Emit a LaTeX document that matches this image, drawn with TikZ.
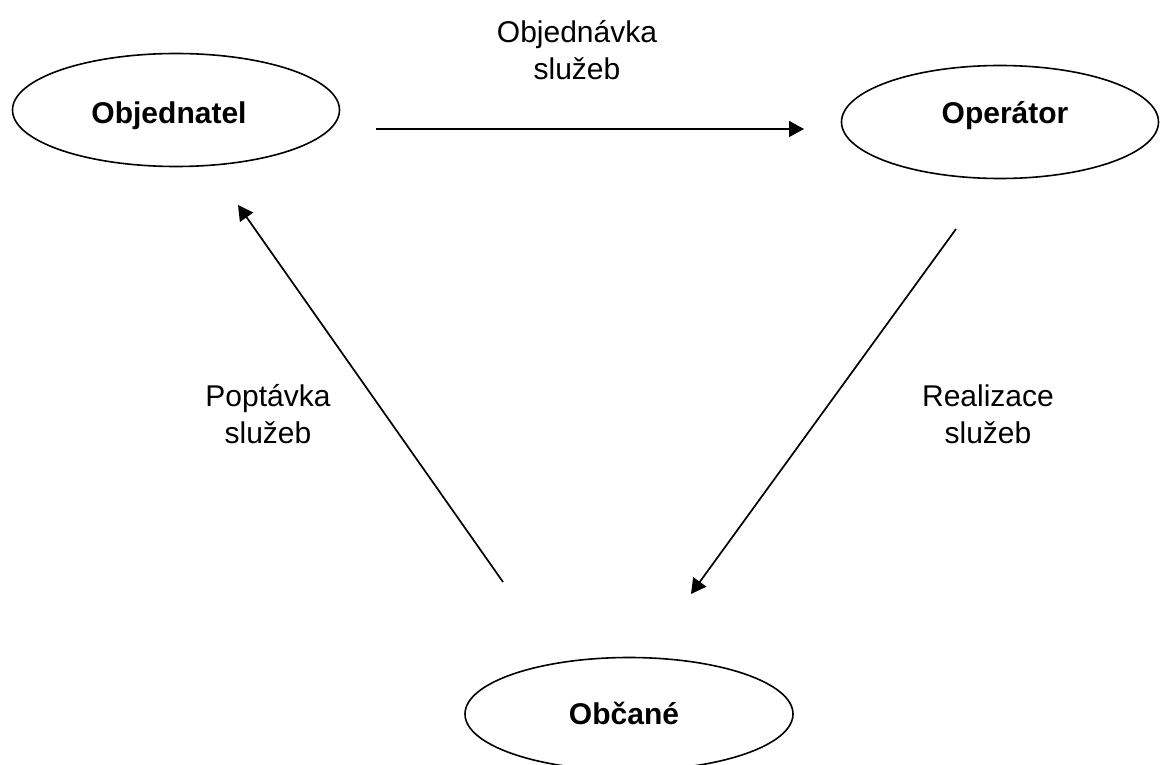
\documentclass[tikz,border=0pt]{standalone}
\usepackage{fontspec}
\setmainfont{Liberation Sans}
\usetikzlibrary{shapes.geometric,arrows.meta}
\begin{document}
\begin{tikzpicture}[x=1pt,y=-1pt,
  party/.style={draw, line width=1.6pt, ellipse, inner sep=0pt,
    minimum width=#1, minimum height=113pt},
  partytext/.style={font=\fontsize{30}{37}\selectfont\bfseries},
  flow/.style={line width=1.7pt, -{Triangle[length=15pt,width=16pt]}},
  caption/.style={align=center, font=\fontsize{30}{37}\selectfont}]
  \clip (0,0) rectangle (1160,765);
  \fill[white] (0,0) rectangle (1160,765);

  % the three parties
  \node[party=327pt] (obj) at (176,110) {};
  \node[party=317pt] (op)  at (1000,122) {};
  \node[party=328pt] (obc) at (629,714) {};
  \node[partytext] (tobj) at (169,116) {Objednatel};
  \node[partytext] (top)  at (1005,116) {Operátor};
  \node[partytext] (tobc) at (624,713) {Občané};

  % arrow end points
  \coordinate (objout) at (376,129);
  \coordinate (opin)   at (804,129);
  \coordinate (opout)  at (956,229);
  \coordinate (obcin)  at (691,594);
  \coordinate (obcout) at (503,582);
  \coordinate (objin)  at (238,205);

  % service flows
  \draw[flow] (objout) -- (opin);
  \draw[flow] (opout) -- (obcin);
  \draw[flow] (obcout) -- (objin);

  % flow labels
  \node[caption] (lorder)   at (577,50)  {Objednávka\\služeb};
  \node[caption] (lrequest) at (268,414) {Poptávka\\služeb};
  \node[caption] (lrealize) at (988,414) {Realizace\\služeb};
\end{tikzpicture}
\end{document}
